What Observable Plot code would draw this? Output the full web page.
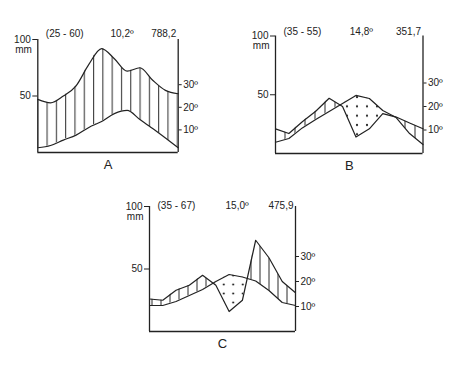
<!DOCTYPE html>
<html><head><meta charset="utf-8">
<script src="https://cdn.jsdelivr.net/npm/d3@7"></script>
<script src="https://cdn.jsdelivr.net/npm/@observablehq/plot@0.6"></script>
<style>
body{margin:0;background:#fff;width:474px;height:384px;position:relative;overflow:hidden;font-family:"Liberation Sans",Arial,sans-serif;}
.panel{position:absolute;}
</style></head><body>
<div id="A" class="panel"></div>
<div id="B" class="panel"></div>
<div id="C" class="panel"></div>
<script>
// Months
const months = [1, 2, 3, 4, 5, 6, 7, 8, 9, 10, 11, 12];

// Station A
const precipA = [47, 44, 50, 59, 78, 92, 83, 72, 75, 64, 55, 52];   // mm
const tempA = [2.1, 3.1, 5.5, 7.7, 11.1, 13.7, 17.2, 18.6, 14.6, 10.6, 6.4, 2.1]; // °C
const headA = ["(25 - 60)", "10,2º", "788,2"];

// Station B
const precipB = [21, 17, 27, 36, 47, 40, 14, 21, 34, 31, 26, 21];
const tempB = [4.8, 6.4, 10.9, 14.5, 17.9, 21.3, 24.7, 23.4, 18.3, 15.3, 8.5, 3.8];
const headB = ["(35 - 55)", "14,8º", "351,7"];

// Station C
const precipC = [26, 25, 33, 37, 45, 37, 16, 25, 73, 59, 40, 31];
const tempC = [10.4, 10.4, 12, 14.4, 16.8, 20, 22.8, 21.8, 20.2, 16.4, 11.6, 10.4];
const headC = ["(35 - 67)", "15,0º", "475,9"];

// Axis tick values
const leftTicks = [25, 50];          // in °C units; label = mm (x2)
const rightTicks = [10, 20, 30];     // °C
const unitLabel = "mm";

const panels = [
  {id: "A", precip: precipA, temp: tempA, head: headA,
   left: 0, top: 20, width: 200, height: 170, mL: 37.3, mR: 22.3, mT: 19, mB: 38,
   curve: "monotone-x", topDy: -6, meanX: 7.6, hatchW: 9.3, hatchX: 0.6, dotW: 10, dotH: 9},
  {id: "B", precip: precipB, temp: tempB, head: headB,
   left: 232, top: 18, width: 220, height: 170, mL: 43, mR: 29.5, mT: 17.5, mB: 35,
   curve: "linear", topDy: -4, meanX: 7.4, hatchW: 10, hatchX: 3, dotW: 10, dotH: 9.3},
  {id: "C", precip: precipC, temp: tempC, head: headC,
   left: 105, top: 190, width: 220, height: 175, mL: 44, mR: 30, mT: 16, mB: 34,
   curve: "linear", topDy: -1, meanX: 7.6, hatchW: 9, hatchX: 2, dotW: 9.5, dotH: 9}
];

const ink = "#222";
const ns = "http://www.w3.org/2000/svg";

function el(name, attrs) {
  const e = document.createElementNS(ns, name);
  for (const k in attrs) e.setAttribute(k, attrs[k]);
  return e;
}

function getDefs(svg) {
  let defs = svg.querySelector("defs");
  if (!defs) { defs = el("defs", {}); svg.insertBefore(defs, svg.firstChild); }
  return defs;
}

function addPatterns(svg, cfg) {
  const defs = getDefs(svg);
  const h = el("pattern", {id: "hatch" + cfg.id, patternUnits: "userSpaceOnUse", width: cfg.hatchW, height: 10});
  h.appendChild(el("line", {x1: cfg.hatchX, y1: 0, x2: cfg.hatchX, y2: 10, stroke: "#2a2a2a", "stroke-width": 1}));
  defs.appendChild(h);
  const d = el("pattern", {id: "dots" + cfg.id, patternUnits: "userSpaceOnUse", width: cfg.dotW, height: cfg.dotH});
  d.appendChild(el("circle", {cx: cfg.dotW / 2, cy: cfg.dotH / 2, r: 1.1, fill: "#2a2a2a"}));
  defs.appendChild(d);
}

function setFill(g, fill) {
  g.setAttribute("fill", fill);
  g.querySelectorAll("path").forEach(p => p.setAttribute("fill", fill));
}

function clipBy(svg, target, shape, clipId) {
  const defs = getDefs(svg);
  const cp = el("clipPath", {id: clipId});
  shape.querySelectorAll("path").forEach(p => {
    const c = p.cloneNode(); c.removeAttribute("fill"); cp.appendChild(c);
  });
  defs.appendChild(cp);
  shape.remove();
  target.setAttribute("clip-path", `url(#${clipId})`);
}

for (const cfg of panels) {
  const data = months.map((m, i) => ({m, p: cfg.precip[i] / 2, t: cfg.temp[i]}));
  const svg = Plot.plot({
    width: cfg.width, height: cfg.height,
    marginLeft: cfg.mL, marginRight: cfg.mR, marginTop: cfg.mT, marginBottom: cfg.mB,
    x: {domain: [1, 12], axis: null},
    y: {domain: [0, 50], axis: null, label: null},
    style: {fontFamily: '"Liberation Sans", Arial, sans-serif', fontSize: "10px", color: ink, background: "transparent", overflow: "visible"},
    marks: [
      Plot.areaY(data, {x: "m", y1: "t", y2: "p", fill: "#999", curve: cfg.curve}),
      Plot.areaY(data, {x: "m", y1: "t", y2: "p", fill: "#999", curve: cfg.curve}),
      Plot.areaY(data, {x: "m", y1: "t", y2: 58, fill: "black", curve: cfg.curve}),
      Plot.areaY(data, {x: "m", y1: 0, y2: "t", fill: "black", curve: cfg.curve}),
      Plot.lineY(data, {x: "m", y: "p", stroke: ink, strokeWidth: 1.2, curve: cfg.curve}),
      Plot.lineY(data, {x: "m", y: "t", stroke: ink, strokeWidth: 1.2, curve: cfg.curve}),
      Plot.ruleX([1, 12], {y1: 0, y2: 50, stroke: ink, strokeWidth: 1.3}),
      Plot.ruleY([0], {x1: 1, x2: 12, stroke: ink, strokeWidth: 1.3}),
      Plot.axisY({anchor: "left", ticks: leftTicks, tickFormat: d => String(d * 2), tickSize: 5, tickPadding: 2, label: null, fontSize: 10, stroke: ink}),
      Plot.axisY({anchor: "right", ticks: rightTicks, tickFormat: d => d + "º", tickSize: 3, tickPadding: 2, label: null, fontSize: 10, stroke: ink}),
      Plot.text([unitLabel], {text: d => d, x: 1, y: 50, dx: -6, dy: 10, textAnchor: "end", fontSize: 10, fill: ink}),
      Plot.text([cfg.head[0]], {text: d => d, x: 1, y: 50, dx: 8, dy: cfg.topDy, textAnchor: "start", fontSize: 10, fill: ink}),
      Plot.text([cfg.head[1]], {text: d => d, x: cfg.meanX, y: 50, dy: cfg.topDy, textAnchor: "middle", fontSize: 10, fill: ink}),
      Plot.text([cfg.head[2]], {text: d => d, x: 12, y: 50, dx: -2, dy: cfg.topDy, textAnchor: "end", fontSize: 10, fill: ink}),
      Plot.text([cfg.id], {text: d => d, frameAnchor: "bottom", dy: 16, fontSize: 13, fill: ink})
    ]
  });
  const areas = svg.querySelectorAll('g[aria-label="area"]');
  if (areas.length >= 4) {
    const [humid, arid, clipAbove, clipBelow] = areas;
    addPatterns(svg, cfg);
    setFill(humid, `url(#hatch${cfg.id})`);
    setFill(arid, `url(#dots${cfg.id})`);
    clipBy(svg, humid, clipAbove, "clipHumid" + cfg.id);
    clipBy(svg, arid, clipBelow, "clipArid" + cfg.id);
  }
  const host = document.getElementById(cfg.id);
  host.style.left = cfg.left + "px";
  host.style.top = cfg.top + "px";
  host.appendChild(svg);
}
</script>
</body></html>
